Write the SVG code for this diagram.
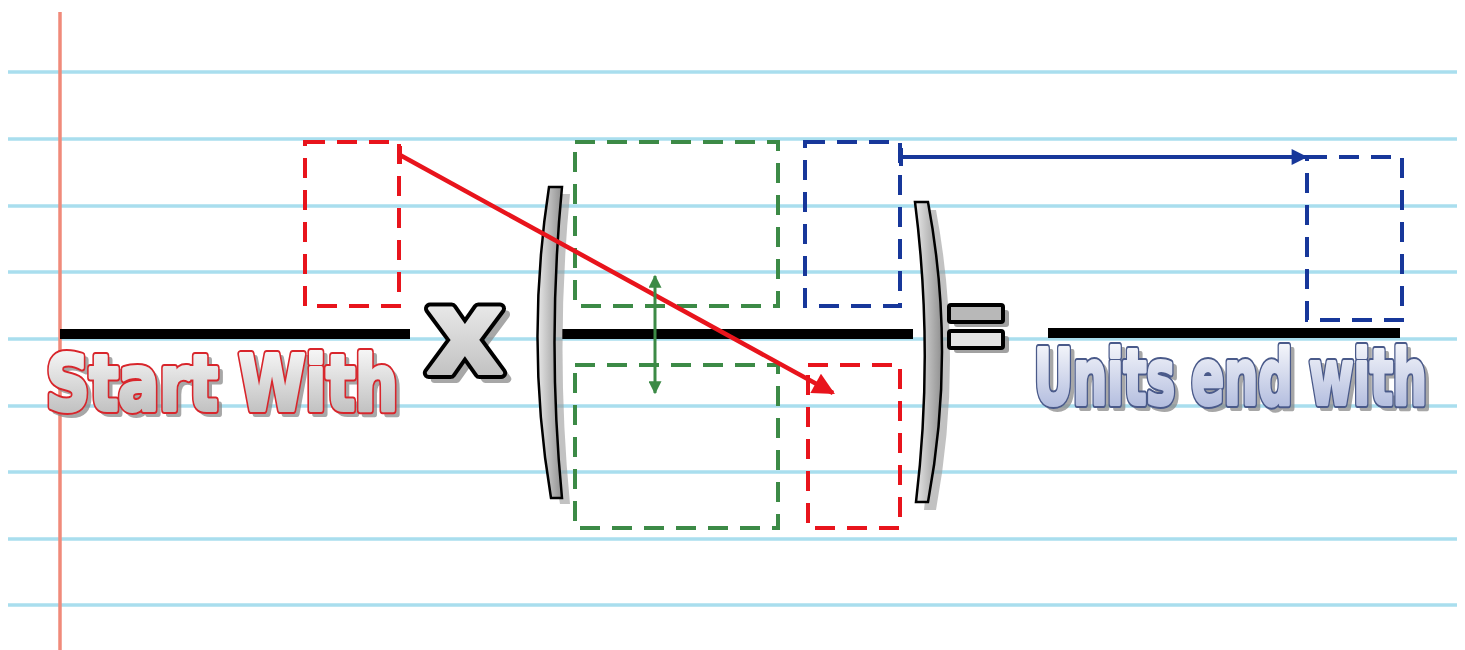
<svg xmlns="http://www.w3.org/2000/svg" width="1465" height="650" viewBox="0 0 1465 650">
<style>
.rule{stroke:#a9deee;stroke-width:3.5}
.bar{stroke:#000;stroke-width:10}
.dr{fill:none;stroke:#e8141c;stroke-width:4;stroke-dasharray:20 12}
.dg{fill:none;stroke:#3c8a46;stroke-width:4;stroke-dasharray:20 12}
.db{fill:none;stroke:#17379a;stroke-width:4;stroke-dasharray:20 12}
.big{font-family:"DejaVu Sans","Liberation Sans",sans-serif;font-weight:bold;font-size:76px;stroke-linejoin:round}
.shadow{fill:#8a8a8a;stroke:#8a8a8a;stroke-width:6;opacity:.75}
</style>
<defs>
<linearGradient id="gw" x1="0" y1="0" x2="0" y2="1"><stop offset="0" stop-color="#ffffff"/><stop offset="1" stop-color="#b4b4b4"/></linearGradient>
<linearGradient id="gb" x1="0" y1="0" x2="0" y2="1"><stop offset="0" stop-color="#ffffff"/><stop offset="1" stop-color="#a4b0d8"/></linearGradient>
<linearGradient id="gp" x1="0" y1="0" x2="1" y2="0"><stop offset="0" stop-color="#e8e8e8"/><stop offset="1" stop-color="#909090"/></linearGradient>
<marker id="ar" viewBox="0 0 10 10" refX="9" refY="5" markerWidth="26" markerHeight="22" orient="auto" markerUnits="userSpaceOnUse"><path d="M0,0 L10,5 L0,10 z" fill="#e8141c"/></marker>
<marker id="ab" viewBox="0 0 10 10" refX="9" refY="5" markerWidth="20" markerHeight="16" orient="auto" markerUnits="userSpaceOnUse"><path d="M0,0 L10,5 L0,10 z" fill="#17379a"/></marker>
<marker id="ag" viewBox="0 0 10 10" refX="9" refY="5" markerWidth="13" markerHeight="13" orient="auto-start-reverse" markerUnits="userSpaceOnUse"><path d="M0,0 L10,5 L0,10 z" fill="#3c8a46"/></marker>
</defs>
<rect width="1465" height="650" fill="#ffffff"/>
<g id="paper">
<line class="rule" x1="8" y1="72" x2="1457" y2="72"/>
<line class="rule" x1="8" y1="139" x2="1457" y2="139"/>
<line class="rule" x1="8" y1="206" x2="1457" y2="206"/>
<line class="rule" x1="8" y1="272" x2="1457" y2="272"/>
<line class="rule" x1="8" y1="339" x2="1457" y2="339"/>
<line class="rule" x1="8" y1="406" x2="1457" y2="406"/>
<line class="rule" x1="8" y1="472" x2="1457" y2="472"/>
<line class="rule" x1="8" y1="539" x2="1457" y2="539"/>
<line class="rule" x1="8" y1="605" x2="1457" y2="605"/>
<line x1="60" y1="12" x2="60" y2="650" stroke="#f08a7a" stroke-width="3.5"/>
</g>
<g id="bars">
<line class="bar" x1="60" y1="334" x2="410" y2="334"/>
<line class="bar" x1="562" y1="334" x2="913" y2="334"/>
<line class="bar" x1="1048" y1="333" x2="1400" y2="333"/>
</g>
<g id="start-with">
<text class="big shadow" x="50" y="414" textLength="352" lengthAdjust="spacingAndGlyphs">Start With</text>
<text class="big" x="46" y="410" textLength="352" lengthAdjust="spacingAndGlyphs" fill="#d8262c" stroke="#d8262c" stroke-width="8">Start With</text>
<text class="big" x="46" y="410" textLength="352" lengthAdjust="spacingAndGlyphs" fill="url(#gw)" stroke="url(#gw)" stroke-width="4">Start With</text>
</g>
<g id="times">
<text x="433" y="379" font-family="DejaVu Sans,sans-serif" font-weight="bold" font-size="118" textLength="76" lengthAdjust="spacingAndGlyphs" fill="#8a8a8a" stroke="#8a8a8a" stroke-width="8" stroke-linejoin="round" opacity=".75">x</text>
<text x="427" y="373" font-family="DejaVu Sans,sans-serif" font-weight="bold" font-size="118" textLength="76" lengthAdjust="spacingAndGlyphs" fill="#000" stroke="#000" stroke-width="12" stroke-linejoin="round">x</text>
<text x="427" y="373" font-family="DejaVu Sans,sans-serif" font-weight="bold" font-size="118" textLength="76" lengthAdjust="spacingAndGlyphs" fill="url(#gw)" stroke="url(#gw)" stroke-width="4" stroke-linejoin="round">x</text>
</g>
<g id="left-paren">
<path d="M553,190 L566,190 Q551,345 566,500 L556,500 Q529,345 553,190 Z" fill="#999" opacity=".6" transform="translate(4,4)"/>
<path d="M549,187 L562,187 Q547,343 562,498 L551,498 Q525,343 549,187 Z" fill="url(#gp)" stroke="#000" stroke-width="2.5"/>
</g>
<g id="right-paren">
<path d="M919,206 L932,206 Q960,355 932,506 L920,506 Q938,355 919,206 Z" fill="#999" opacity=".6" transform="translate(4,4)"/>
<path d="M915,202 L928,202 Q956,352 928,502 L916,502 Q934,352 915,202 Z" fill="url(#gp)" stroke="#000" stroke-width="2.5"/>
</g>
<g id="equals">
<rect x="954" y="310" width="55" height="17" rx="3" fill="#8a8a8a" opacity=".8"/>
<rect x="954" y="336" width="55" height="17" rx="3" fill="#8a8a8a" opacity=".8"/>
<rect x="949" y="305" width="54" height="17" rx="2" fill="#b8b8b8" stroke="#000" stroke-width="4"/>
<rect x="949" y="331" width="54" height="17" rx="2" fill="#e4e4e4" stroke="#000" stroke-width="4"/>
</g>
<g id="units-end-with">
<text class="big shadow" x="1038" y="408" textLength="393" lengthAdjust="spacingAndGlyphs">Units end with</text>
<text class="big" x="1034" y="404" textLength="393" lengthAdjust="spacingAndGlyphs" fill="#4a5a8a" stroke="#4a5a8a" stroke-width="8">Units end with</text>
<text class="big" x="1034" y="404" textLength="393" lengthAdjust="spacingAndGlyphs" fill="url(#gb)" stroke="url(#gb)" stroke-width="4">Units end with</text>
</g>
<g id="start-box"><rect class="dr" x="305" y="142" width="94" height="164"/></g>
<g id="conv-num-green"><rect class="dg" x="575" y="142" width="203" height="164"/></g>
<g id="conv-den-green"><rect class="dg" x="575" y="365" width="203" height="163"/></g>
<g id="conv-num-blue"><rect class="db" x="805" y="142" width="95" height="164"/></g>
<g id="conv-den-red"><rect class="dr" x="808" y="365" width="92" height="163"/></g>
<g id="result-box"><rect class="db" x="1307" y="157" width="95" height="163"/></g>
<g id="connectors">
<line x1="400" y1="146" x2="400" y2="164" stroke="#e8141c" stroke-width="4"/>
<line x1="400" y1="155" x2="833" y2="393" stroke="#e8141c" stroke-width="4.5" marker-end="url(#ar)"/>
<line x1="901" y1="148" x2="901" y2="166" stroke="#17379a" stroke-width="4"/>
<line x1="901" y1="157" x2="1306" y2="157" stroke="#17379a" stroke-width="4" marker-end="url(#ab)"/>
<line x1="655" y1="276" x2="655" y2="393" stroke="#3c8a46" stroke-width="3" marker-start="url(#ag)" marker-end="url(#ag)"/>
</g>
</svg>
